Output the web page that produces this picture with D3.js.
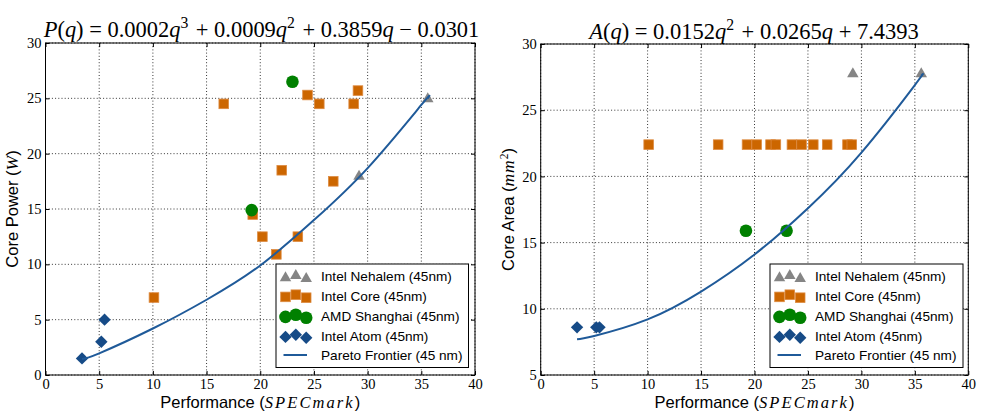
<!DOCTYPE html>
<html><head><meta charset="utf-8">
<script src="https://cdn.jsdelivr.net/npm/d3@7"></script>
<style>body{margin:0;background:#fff}svg{display:block}</style>
</head><body>
<svg id="chart" width="984" height="420"></svg>
<script>
// ---------------- data ----------------
const xTicks = [0, 5, 10, 15, 20, 25, 30, 35, 40];
const powerTicks = [0, 5, 10, 15, 20, 25, 30];
const areaTicks = [5, 10, 15, 20, 25, 30];

const nehalemPerf = [29.2, 35.6];
const nehalemPower = [18.0, 25.0];
const nehalemArea = [27.8, 27.8];

const corePerf = [10.1, 16.6, 19.3, 20.2, 21.5, 22.0, 23.5, 24.4, 25.5, 26.8, 28.7, 29.1];
const corePower = [7.0, 24.5, 14.5, 12.5, 10.9, 18.5, 12.5, 25.3, 24.5, 17.5, 24.5, 25.7];
const coreArea = [22.4, 22.4, 22.4, 22.4, 22.4, 22.4, 22.4, 22.4, 22.4, 22.4, 22.4, 22.4];

const amdPerf = [19.2, 23.0];
const amdPower = [14.9, 26.5];
const amdArea = [15.9, 15.9];

const atomPerf = [3.4, 5.2, 5.5];
const atomPower = [1.5, 3.0, 5.0];
const atomArea = [8.6, 8.6, 8.6];

const frontierPerf = [3.4, 5, 10, 15, 20, 25, 30, 35, 35.6];
const frontierPower = [1.45, 1.96, 4.2, 6.8, 9.9, 14.0, 18.7, 24.4, 25.0];
const frontierArea = [7.7, 7.95, 9.2, 11.3, 14.1, 17.6, 21.8, 26.9, 27.6];

const legendLabels = ["Intel Nehalem (45nm)", "Intel Core (45nm)", "AMD Shanghai (45nm)", "Intel Atom (45nm)", "Pareto Frontier (45 nm)"];

// ---------------- style ----------------
const C = {
  nehalem: "#858585",
  core: "#cc6600",
  coreEdge: "#dd8a40",
  amd: "#008000",
  atom: "#164b87",
  line: "#1f5a99"
};
const SERIF = "'Liberation Serif','DejaVu Serif',serif";
const SANS = "'Liberation Sans',Arial,sans-serif";

const svg = d3.select("#chart");

function marker(g, type, cx, cy) {
  if (type === "tri") {
    const w = 11.5, h = 10;
    g.append("path").attr("d", `M${cx},${cy - h * 0.6}L${cx + w / 2},${cy + h * 0.4}L${cx - w / 2},${cy + h * 0.4}Z`)
      .attr("fill", C.nehalem);
  } else if (type === "sq") {
    const s = 9.6;
    g.append("rect").attr("x", cx - s / 2).attr("y", cy - s / 2).attr("width", s).attr("height", s)
      .attr("fill", C.core).attr("stroke", C.coreEdge).attr("stroke-width", 0.8);
  } else if (type === "circ") {
    g.append("circle").attr("cx", cx).attr("cy", cy).attr("r", 6.3).attr("fill", C.amd);
  } else if (type === "dia") {
    const r = 6.2;
    g.append("path").attr("d", `M${cx},${cy - r}L${cx + r},${cy}L${cx},${cy + r}L${cx - r},${cy}Z`)
      .attr("fill", C.atom);
  }
}

function fitSpacing(tspan, target) {
  const n = tspan.node();
  const len = n.getComputedTextLength();
  const chars = n.textContent.length;
  tspan.attr("letter-spacing", (target - len) / chars);
}

function drawPanel(cfg) {
  const x = d3.scaleLinear().domain([0, 40]).range([cfg.x0, cfg.x1]);
  const y = d3.scaleLinear().domain(cfg.yDomain).range([cfg.y1, cfg.y0]);
  const g = svg.append("g");

  const grid = g.append("g").attr("stroke", "#000").attr("stroke-width", 0.8).attr("stroke-dasharray", "1,2.2");
  xTicks.forEach(t => grid.append("line").attr("x1", x(t)).attr("x2", x(t)).attr("y1", cfg.y0).attr("y2", cfg.y1));
  cfg.yTicks.forEach(t => grid.append("line").attr("x1", cfg.x0).attr("x2", cfg.x1).attr("y1", y(t)).attr("y2", y(t)));

  const ax = (sel) => { sel.select(".domain").remove(); sel.selectAll(".tick line").attr("stroke", "#000"); };
  g.append("g").attr("transform", `translate(0,${cfg.y1})`)
    .call(d3.axisBottom(x).tickValues(xTicks).tickSize(-4).tickPadding(4).tickFormat(d3.format("d"))).call(ax)
    .selectAll("text").attr("font-family", SERIF).attr("font-size", 14.5).attr("fill", "#000");
  g.append("g").attr("transform", `translate(0,${cfg.y0})`)
    .call(d3.axisTop(x).tickValues(xTicks).tickSize(-4).tickFormat("")).call(ax);
  g.append("g").attr("transform", `translate(${cfg.x0},0)`)
    .call(d3.axisLeft(y).tickValues(cfg.yTicks).tickSize(-4).tickPadding(4).tickFormat(d3.format("d"))).call(ax)
    .selectAll("text").attr("font-family", SERIF).attr("font-size", 14.5).attr("fill", "#000");
  g.append("g").attr("transform", `translate(${cfg.x1},0)`)
    .call(d3.axisRight(y).tickValues(cfg.yTicks).tickSize(-4).tickFormat("")).call(ax);

  g.append("rect").attr("x", cfg.x0).attr("y", cfg.y0).attr("width", cfg.x1 - cfg.x0).attr("height", cfg.y1 - cfg.y0)
    .attr("fill", "none").attr("stroke", "#000").attr("stroke-width", 1);

  const pts = g.append("g");
  nehalemPerf.forEach((p, i) => marker(pts, "tri", x(p), y(cfg.nehalem[i])));
  corePerf.forEach((p, i) => marker(pts, "sq", x(p), y(cfg.core[i])));
  amdPerf.forEach((p, i) => marker(pts, "circ", x(p), y(cfg.amd[i])));
  atomPerf.forEach((p, i) => marker(pts, "dia", x(p), y(cfg.atom[i])));

  const line = d3.line().x(d => x(d[0])).y(d => y(d[1])).curve(d3.curveNatural);
  g.append("path").datum(frontierPerf.map((p, i) => [p, cfg.frontier[i]]))
    .attr("d", line).attr("fill", "none").attr("stroke", C.line).attr("stroke-width", 2);

  const L = cfg.legend;
  const lg = g.append("g");
  lg.append("rect").attr("x", L.x).attr("y", L.y).attr("width", L.w).attr("height", L.h)
    .attr("fill", "#fff").attr("stroke", "#000").attr("stroke-width", 1);
  const rows = [12, 31.7, 51.7, 71.7, 91];
  const offs = [1.2, -1.0, 2.0];
  const types = ["tri", "sq", "circ", "dia"];
  types.forEach((t, i) => {
    [9.5, 19.8, 30.2].forEach((dx, k) => marker(lg, t, L.x + dx, L.y + rows[i] + offs[k]));
  });
  lg.append("line").attr("x1", L.x + 7.5).attr("x2", L.x + 31).attr("y1", L.y + rows[4]).attr("y2", L.y + rows[4])
    .attr("stroke", C.line).attr("stroke-width", 2);
  const texts = legendLabels.map((t, i) =>
    lg.append("text").attr("x", L.x + 45).attr("y", L.y + rows[i]).attr("dy", "0.36em")
      .attr("font-family", SANS).attr("font-size", 14).attr("fill", "#000").text(t));
  const w0 = texts[0].node().getComputedTextLength();
  const lfs = 14 * 131 / w0;
  texts.forEach(t => t.attr("font-size", lfs));

  const xl = g.append("text").attr("x", (cfg.x0 + cfg.x1) / 2).attr("y", 408).attr("text-anchor", "middle")
    .attr("font-family", SANS).attr("font-size", 16.5).attr("fill", "#000");
  xl.append("tspan").text("Performance (");
  const spec = xl.append("tspan").attr("font-family", SERIF).attr("font-style", "italic").attr("font-size", 16.5).text("SPECmark");
  xl.append("tspan").text(")");
  fitSpacing(spec, 90);

  const yl = g.append("text").attr("transform", `translate(${cfg.ylabX},${(cfg.y0 + cfg.y1) / 2}) rotate(-90)`)
    .attr("text-anchor", "middle").attr("font-family", SANS).attr("font-size", 16.5).attr("fill", "#000");
  cfg.ylabel(yl);

  const tt = g.append("text").attr("x", cfg.titleX).attr("y", cfg.titleY).attr("text-anchor", "middle")
    .attr("font-family", SERIF).attr("font-size", 22).attr("fill", "#000");
  cfg.title(tt, 22);
  const bb = tt.node().getBBox();
  const fs = 22 * cfg.titleW / bb.width;
  tt.selectAll("*").remove();
  tt.attr("font-size", fs);
  cfg.title(tt, fs);
}

function it(t, s) { t.append("tspan").attr("font-style", "italic").text(s); }
function rm(t, s) { t.append("tspan").text(s); }
function sup(t, s, fs) {
  t.append("tspan").attr("dy", -0.38 * fs).attr("font-size", fs * 0.7).text(s);
  t.append("tspan").attr("dy", 0.38 * fs).text("\u200a");
}

drawPanel({
  x0: 45.5, x1: 475, y0: 43, y1: 375,
  yDomain: [0, 30], yTicks: powerTicks,
  nehalem: nehalemPower, core: corePower, amd: amdPower, atom: atomPower, frontier: frontierPower,
  legend: { x: 276, y: 264, w: 192.5, h: 103.5 },
  ylabX: 18,
  ylabel: (t) => {
    rm(t, "Core Power (");
    t.append("tspan").attr("font-family", SERIF).attr("font-style", "italic").attr("font-size", 17.5).text("W");
    rm(t, ")");
  },
  titleX: 261.5, titleY: 37, titleW: 437,
  title: (t, fs) => {
    it(t, "P"); rm(t, "("); it(t, "q"); rm(t, ") = 0.0002"); it(t, "q"); sup(t, "3", fs);
    rm(t, " + 0.0009"); it(t, "q"); sup(t, "2", fs); rm(t, " + 0.3859"); it(t, "q"); rm(t, " \u2212 0.0301");
  }
});

drawPanel({
  x0: 540.7, x1: 968.3, y0: 44, y1: 375,
  yDomain: [5, 30], yTicks: areaTicks,
  nehalem: nehalemArea, core: coreArea, amd: amdArea, atom: atomArea, frontier: frontierArea,
  legend: { x: 770, y: 264, w: 193, h: 103.5 },
  ylabX: 514,
  ylabel: (t) => {
    rm(t, "Core Area (");
    t.append("tspan").attr("font-family", SERIF).attr("font-style", "italic").attr("font-size", 17.5)
      .attr("letter-spacing", 1).text("mm");
    t.append("tspan").attr("font-family", SERIF).attr("dy", -6).attr("font-size", 11.5).text("2");
    t.append("tspan").attr("dy", 6).text(")");
  },
  titleX: 754, titleY: 39, titleW: 332,
  title: (t, fs) => {
    it(t, "A"); rm(t, "("); it(t, "q"); rm(t, ") = 0.0152"); it(t, "q"); sup(t, "2", fs);
    rm(t, " + 0.0265"); it(t, "q"); rm(t, " + 7.4393");
  }
});
</script>
</body></html>
